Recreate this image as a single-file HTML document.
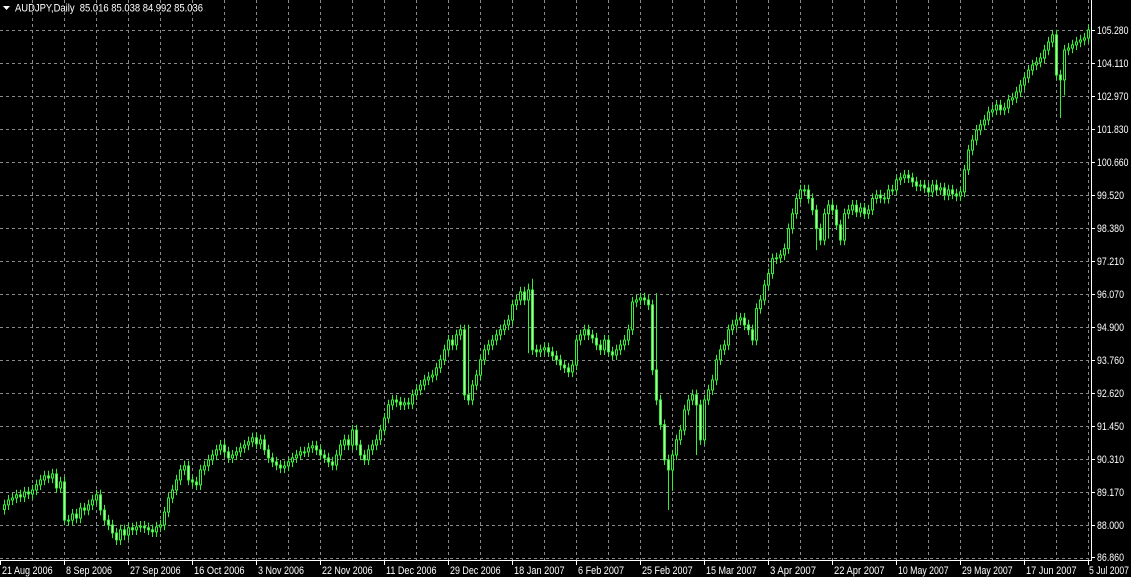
<!DOCTYPE html>
<html><head><meta charset="utf-8"><style>
html,body{margin:0;padding:0;background:#000;overflow:hidden}
svg{display:block}
text{font-family:"Liberation Sans","DejaVu Sans",sans-serif;font-size:11px;fill:#fff}
</style></head><body>
<svg id="chart" width="1131" height="577" viewBox="0 0 1131 577" xmlns="http://www.w3.org/2000/svg">
<rect x="0" y="0" width="1131" height="577" fill="#000"/>
<g id="grid"></g>
<g id="candles"></g>
<g id="axes"></g>
<g>
<polygon points="3,6 10,6 6.5,10" fill="#fff"/>
<text x="15" y="11.5" textLength="188" lengthAdjust="spacingAndGlyphs">AUDJPY,Daily&#160; 85.016 85.038 84.992 85.036</text>
</g>
</svg>
<script>
const closes = [
88.71,88.88,88.95,89.06,88.99,89.16,89.09,89.23,
89.41,89.58,89.72,89.65,89.79,89.30,89.51,88.18,
88.18,88.39,88.25,88.60,88.53,88.71,88.88,89.06,
88.53,88.18,88.01,87.73,87.49,87.84,87.66,87.91,
87.84,87.94,87.97,87.91,87.84,87.77,87.94,88.01,
88.46,88.95,89.23,89.58,89.93,90.07,89.58,89.51,
89.41,89.93,90.07,90.28,90.45,90.63,90.80,90.56,
90.35,90.45,90.56,90.70,90.80,90.91,91.05,90.84,
90.98,90.63,90.35,90.21,90.10,90.00,90.07,90.21,
90.35,90.45,90.56,90.56,90.70,90.77,90.63,90.45,
90.35,90.21,90.10,90.45,90.80,90.98,90.80,91.32,
90.80,90.45,90.28,90.63,90.80,90.98,91.32,91.74,
92.20,92.37,92.30,92.20,92.27,92.23,92.55,92.72,
92.89,93.07,93.17,93.24,93.49,93.77,94.12,94.46,
94.29,94.64,94.82,92.55,92.37,92.89,93.24,93.77,
94.12,94.29,94.46,94.64,94.82,94.99,95.16,95.69,
95.86,96.14,95.86,96.21,94.12,94.05,94.12,94.19,
94.05,93.91,93.77,93.59,93.49,93.35,93.59,94.46,
94.64,94.82,94.64,94.53,94.29,94.12,94.46,94.05,
93.94,94.12,94.29,94.46,94.82,95.79,95.86,95.93,
95.86,95.69,93.42,92.37,91.51,90.28,89.93,90.45,
90.98,91.32,92.02,92.37,92.55,92.20,90.98,92.37,
92.72,93.07,93.77,94.12,94.29,94.82,94.99,95.16,
95.23,94.99,94.82,94.46,95.56,95.86,96.38,96.78,
97.30,97.33,97.43,97.65,98.35,98.87,99.40,99.70,
99.70,99.40,99.00,98.35,97.95,98.87,99.17,99.00,
98.48,97.95,98.87,99.00,99.17,98.93,99.07,98.87,
99.00,99.40,99.52,99.42,99.40,99.70,99.70,100.05,
100.12,100.22,100.12,99.98,99.84,99.87,99.77,99.63,
99.87,99.70,99.77,99.52,99.70,99.56,99.49,99.63,
100.40,101.09,101.44,101.79,101.97,102.14,102.42,102.49,
102.66,102.49,102.56,102.84,102.91,103.12,103.36,103.61,
103.88,104.06,104.16,104.30,104.58,104.86,105.11,103.71,
103.54,104.58,104.65,104.76,104.86,104.93,105.00,105.28
];
const firstOpen = 88.55;
const lowSpikes = {131:94.0, 166:88.53, 167:89.2, 173:90.45, 203:97.6, 206:98.0, 264:102.21, 265:103.0};
const highSpikes = {131:96.43, 132:96.6, 116:95.0, 163:96.1};
const priceTicks = ["105.280","104.110","102.970","101.830","100.660","99.520","98.380","97.210","96.070","94.900","93.760","92.620","91.450","90.310","89.170","88.000","86.860"];
const dateTicks = ["21 Aug 2006","8 Sep 2006","27 Sep 2006","16 Oct 2006","3 Nov 2006","22 Nov 2006","11 Dec 2006","29 Dec 2006","18 Jan 2007","6 Feb 2007","25 Feb 2007","15 Mar 2007","3 Apr 2007","22 Apr 2007","10 May 2007","29 May 2007","17 Jun 2007","5 Jul 2007"];

const NS = "http://www.w3.org/2000/svg";
const PMAX = 105.28, Y0 = 30, PXU = 28.66;
function yScale(p){ return Y0 + (PMAX - p) * PXU; }
function xScale(i){ return 1088 - 4 * (closes.length - 1 - i); }
function mk(tag, attrs, parent){ const e = document.createElementNS(NS, tag); for (const k in attrs) e.setAttribute(k, attrs[k]); parent.appendChild(e); return e; }

const grid = document.getElementById('grid');
for (let k = 0; k < priceTicks.length; k++) {
  const y = Math.round(Y0 + 33 * k) + 0.5;
  if (y < 559) {
    const l = mk('line', {x1:0, x2:1091, y1:y, y2:y, stroke:'#8a8a8a', 'stroke-width':1, 'stroke-dasharray':'3,3'}, grid);
    
    
  }
}
for (let k = 1; k <= 34; k++) {
  const x = 32 * k + 0.5;
  const l = mk('line', {x1:x, x2:x, y1:0, y2:560, stroke:'#8a8a8a', 'stroke-width':1, 'stroke-dasharray':'3,3'}, grid);
  
  
}

const cg = document.getElementById('candles');
for (let i = 0; i < closes.length; i++) {
  const o = i === 0 ? firstOpen : closes[i-1];
  const c = closes[i];
  const hi = highSpikes[i] !== undefined ? Math.max(highSpikes[i], o, c) : Math.max(o, c) + 0.18;
  const lo = lowSpikes[i] !== undefined ? Math.min(lowSpikes[i], o, c) : Math.min(o, c) - 0.18;
  const x = xScale(i) + 0.5;
  const g = mk('g', {}, cg);
  
  
  mk('line', {x1:x, x2:x, y1:yScale(hi), y2:yScale(lo), stroke:'#33ee33', 'stroke-width':1}, g);
  const yt = yScale(Math.max(o, c)), yb = yScale(Math.min(o, c));
  const bull = c >= o;
  mk('rect', {x:x-1, y:yt, width:2, height:Math.max(1, yb-yt), fill: bull ? '#000' : '#b8ffb0', stroke:'#33ee33', 'stroke-width':1}, g);
}

const ax = document.getElementById('axes');
const ra = mk('line', {x1:1091.5, x2:1091.5, y1:0, y2:561, stroke:'#fff', 'stroke-width':1}, ax);


const ba = mk('line', {x1:0, x2:1092, y1:560.5, y2:560.5, stroke:'#fff', 'stroke-width':1}, ax);


for (let k = 0; k < priceTicks.length; k++) {
  const y = Math.min(Y0 + 33 * k, 557);
  mk('line', {x1:1091, x2:1095, y1:y+0.5, y2:y+0.5, stroke:'#fff'}, ax);
  const t = mk('text', {x:1097, y:y+4, textLength: priceTicks[k].length * 4.5, lengthAdjust:'spacingAndGlyphs'}, ax);
  t.textContent = priceTicks[k];
  
  
}
for (let k = 0; k < dateTicks.length; k++) {
  const x = 64 * k;
  const last = k === dateTicks.length - 1;
  mk('line', {x1:x+0.5, x2:x+0.5, y1:560, y2:565, stroke:'#fff'}, ax);
  const t = mk('text', {x: last ? x+1 : x+2, y:574, textLength: last ? 40 : dateTicks[k].length * 4.6, lengthAdjust:'spacingAndGlyphs'}, ax);
  t.textContent = dateTicks[k];
  
  
}
</script>
</body></html>
